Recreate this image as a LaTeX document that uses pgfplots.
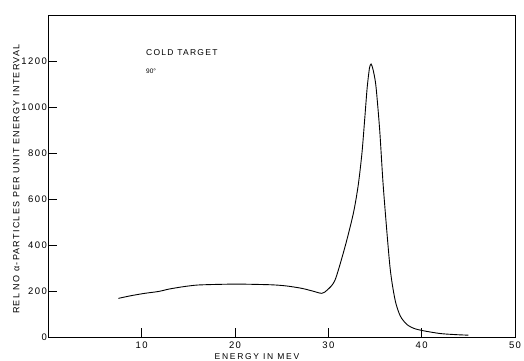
\documentclass[border=0pt]{standalone}
\usepackage{fontspec}
\setmainfont{Liberation Sans}
\usepackage{pgfplots}
\pgfplotsset{compat=1.18}
\begin{document}
\begin{tikzpicture}
\path[use as bounding box] (-48.4pt,-23pt) rectangle (475.6pt,337pt);
\begin{axis}[
  at={(0,0)}, anchor=south west,
  scale only axis, width=466.6pt, height=322pt,
  xmin=0, xmax=50, ymin=0, ymax=1400,
  xtick={10,20,30,40,50}, ytick={0,200,400,600,800,1000,1200},
  xtick pos=bottom, ytick pos=left,
  tick align=inside, major tick length=9pt,
  tick style={black, line width=0.7pt},
  axis line style={black, line width=0.8pt},
  /pgf/number format/assume math mode=true,
  /pgf/number format/1000 sep={},
  ticklabel style={font=\fontsize{9.5}{10}\selectfont\addfontfeature{LetterSpace=15}},
  xticklabel style={yshift=-1pt},
  yticklabel style={xshift=2pt},
  xlabel={ENERGY IN MEV},
  xlabel style={at={(axis description cs:0.447,0)}, anchor=north, yshift=-13pt,
    font=\fontsize{8.5}{9}\selectfont\addfontfeature{LetterSpace=20}},
  ylabel={REL NO α-PARTICLES PER UNIT ENERGY INTERVAL},
  ylabel style={at={(axis description cs:-0.069,0.49)}, anchor=center,
    font=\fontsize{9}{10}\selectfont\addfontfeature{LetterSpace=14}},
]
\addplot[black, line width=0.9pt, smooth, tension=0.45] coordinates {
(7.5,168) (8.9,180) (10.35,190) (11.8,198) (13.0,209) (14.5,219) (16,226)
(18.4,229) (20.5,230) (23.9,227) (25.5,222) (27.1,212) (28.3,200) (29.3,190)
(29.9,205) (30.72,248) (31.79,393) (32.68,538) (33.2,660) (33.6,800) (33.9,950)
(34.15,1080) (34.4,1168) (34.58,1187) (34.8,1161) (35.1,1090) (35.5,900) (35.9,646)
(36.6,306) (37.15,161) (37.7,92) (38.4,55) (39.2,37) (40.2,27)
(42,15) (43.8,10) (45,8)
};
\node[anchor=west, font=\fontsize{8.5}{9}\selectfont\addfontfeature{LetterSpace=15}] at (axis cs:10.1,1236) {COLD TARGET};
\node[anchor=west, font=\fontsize{6.5}{7}\selectfont] at (axis cs:10.1,1157) {90°};
\end{axis}
\end{tikzpicture}
\end{document}
